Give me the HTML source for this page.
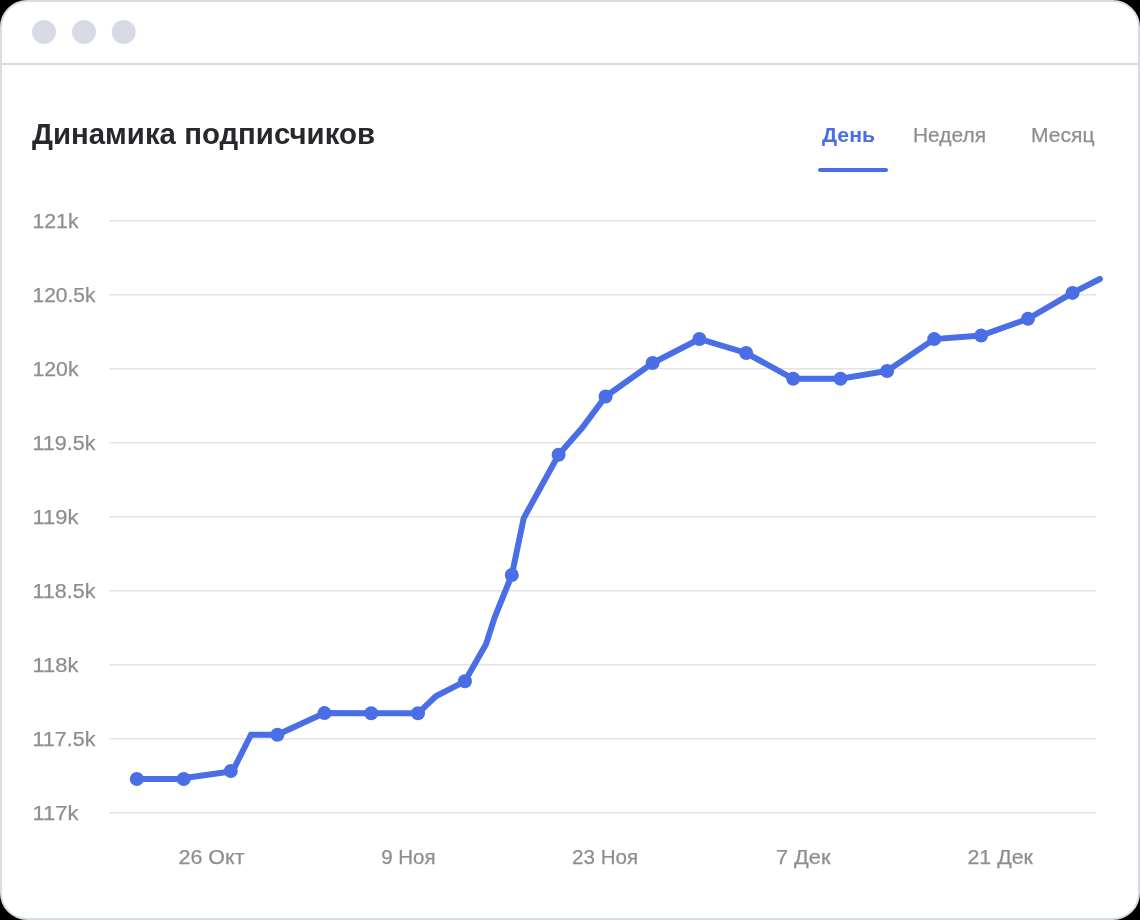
<!DOCTYPE html>
<html><head><meta charset="utf-8">
<style>
html,body{margin:0;padding:0;background:#000;width:1140px;height:920px;overflow:hidden}
.card{position:absolute;left:0;top:0;width:1136px;height:916px;border:2px solid #d8dbe3;border-radius:27px;background:#fff;overflow:hidden}
svg{position:absolute;left:0;top:0}
text{font-family:"Liberation Sans",sans-serif}
.g{stroke:#8e8e8e;stroke-width:0.25}
svg{will-change:transform}
</style></head><body>
<div class="card"></div>
<svg width="1140" height="920" viewBox="0 0 1140 920">
  <rect x="2" y="63" width="1136" height="2" fill="#d8dbe3"/>
  <circle cx="44" cy="32" r="12" fill="#d8dbe3"/>
  <circle cx="84" cy="32" r="12" fill="#d8dbe3"/>
  <circle cx="123.7" cy="32" r="12" fill="#d8dbe3"/>

  <text x="32" y="144" font-size="29" font-weight="bold" fill="#27282c" textLength="343" lengthAdjust="spacingAndGlyphs">Динамика подписчиков</text>
  <text x="822" y="142" font-size="20" font-weight="bold" fill="#4a6ee6" textLength="53" lengthAdjust="spacingAndGlyphs">День</text>
  <text class="g" x="913" y="142" font-size="20" fill="#8e8e8e" textLength="73" lengthAdjust="spacingAndGlyphs">Неделя</text>
  <text class="g" x="1031" y="142" font-size="20" fill="#8e8e8e" textLength="63.5" lengthAdjust="spacingAndGlyphs">Месяц</text>
  <rect x="818" y="168" width="70" height="4" rx="2" fill="#4a6ee6"/>

  <g fill="#dcdcdc">
    <rect x="109" y="220.2" width="987" height="1.2"/>
    <rect x="109" y="294.2" width="987" height="1.2"/>
    <rect x="109" y="368.2" width="987" height="1.2"/>
    <rect x="109" y="442.2" width="987" height="1.2"/>
    <rect x="109" y="516.2" width="987" height="1.2"/>
    <rect x="109" y="590.2" width="987" height="1.2"/>
    <rect x="109" y="664.2" width="987" height="1.2"/>
    <rect x="109" y="738.2" width="987" height="1.2"/>
    <rect x="109" y="812.2" width="987" height="1.2"/>
  </g>
  <g class="g" font-size="20" fill="#8e8e8e">
    <text x="32.5" y="227.5" textLength="46" lengthAdjust="spacingAndGlyphs">121k</text>
    <text x="32.5" y="301.5" textLength="63" lengthAdjust="spacingAndGlyphs">120.5k</text>
    <text x="32.5" y="375.5" textLength="46" lengthAdjust="spacingAndGlyphs">120k</text>
    <text x="32.5" y="449.5" textLength="63" lengthAdjust="spacingAndGlyphs">119.5k</text>
    <text x="32.5" y="523.5" textLength="46" lengthAdjust="spacingAndGlyphs">119k</text>
    <text x="32.5" y="597.5" textLength="63" lengthAdjust="spacingAndGlyphs">118.5k</text>
    <text x="32.5" y="671.5" textLength="46" lengthAdjust="spacingAndGlyphs">118k</text>
    <text x="32.5" y="745.5" textLength="63" lengthAdjust="spacingAndGlyphs">117.5k</text>
    <text x="32.5" y="819.5" textLength="46" lengthAdjust="spacingAndGlyphs">117k</text>
  </g>
  <g class="g" font-size="20" fill="#8e8e8e" text-anchor="middle">
    <text x="211.5" y="864" textLength="66" lengthAdjust="spacingAndGlyphs">26 Окт</text>
    <text x="408.4" y="864" textLength="54.5" lengthAdjust="spacingAndGlyphs">9 Ноя</text>
    <text x="605.1" y="864" textLength="66" lengthAdjust="spacingAndGlyphs">23 Ноя</text>
    <text x="803.2" y="864" textLength="54.5" lengthAdjust="spacingAndGlyphs">7 Дек</text>
    <text x="1000.2" y="864" textLength="65.5" lengthAdjust="spacingAndGlyphs">21 Дек</text>
  </g>

  <polyline fill="none" stroke="#4a6ee6" stroke-width="6" stroke-linejoin="miter" stroke-linecap="round"
    points="136.8,779 177.5,779 232.6,771.2 251,734.7 277.4,734.7 324.5,713.1 371.2,713.2 418,713.3 435.8,696.3 464.9,681.3 486,644.3 494.6,617.5 511.8,575 523.7,518.2 558.6,454.7 582.2,427.8 605.6,396.5 652.6,363 699.4,339 746.2,353 793.2,378.8 840.5,378.8 887.1,371 934.2,339.1 981.1,335.6 1028,318.8 1072.5,292.9 1099.9,279"/>
  <g fill="#4a6ee6">
    <circle cx="136.8" cy="779" r="7"/>
    <circle cx="183.7" cy="779" r="7"/>
    <circle cx="230.8" cy="771" r="7"/>
    <circle cx="277.4" cy="734.7" r="7"/>
    <circle cx="324.5" cy="713.1" r="7"/>
    <circle cx="371.2" cy="713.2" r="7"/>
    <circle cx="418" cy="713.3" r="7"/>
    <circle cx="464.9" cy="681.3" r="7"/>
    <circle cx="511.8" cy="575" r="7"/>
    <circle cx="558.6" cy="454.7" r="7"/>
    <circle cx="605.6" cy="396.5" r="7"/>
    <circle cx="652.6" cy="363" r="7"/>
    <circle cx="699.4" cy="339" r="7"/>
    <circle cx="746.2" cy="353" r="7"/>
    <circle cx="793.2" cy="378.8" r="7"/>
    <circle cx="840.5" cy="378.8" r="7"/>
    <circle cx="887.1" cy="371" r="7"/>
    <circle cx="934.2" cy="339.1" r="7"/>
    <circle cx="981.1" cy="335.6" r="7"/>
    <circle cx="1028" cy="318.8" r="7"/>
    <circle cx="1072.5" cy="292.9" r="7"/>
  </g>
</svg>
</body></html>
